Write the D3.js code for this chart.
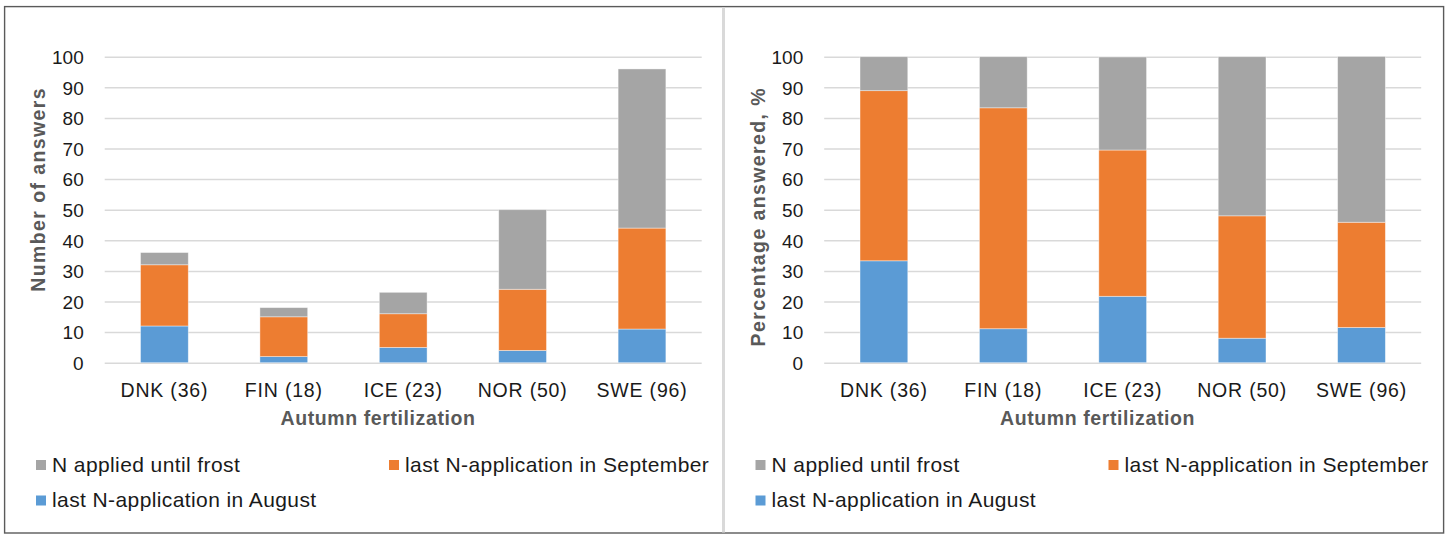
<!DOCTYPE html>
<html>
<head>
<meta charset="utf-8">
<script src="https://cdn.jsdelivr.net/npm/d3@7"></script>
<style>
  body { margin: 0; background: #fff; }
  text { font-family: "Liberation Sans", Arial, sans-serif; }
</style>
</head>
<body>
<script>
// data
var categories = ['DNK (36)', 'FIN (18)', 'ICE (23)', 'NOR (50)', 'SWE (96)']
var seriesKeys = ['august', 'september', 'frost']
var seriesNames = {
  august: 'last N-application in August',
  september: 'last N-application in September',
  frost: 'N applied until frost'
}
var countAugust = [12, 2, 5, 4, 11]
var countSeptember = [20, 13, 11, 20, 33]
var countFrost = [4, 3, 7, 26, 52]
var pctAugust = [33.3, 11.1, 21.7, 8.0, 11.5]
var pctSeptember = [55.6, 72.2, 47.8, 40.0, 34.4]
var pctFrost = [11.1, 16.7, 30.4, 52.0, 54.2]
var yTicks = [0, 10, 20, 30, 40, 50, 60, 70, 80, 90, 100]

var colors = { august: '#5b9bd5', september: '#ed7d31', frost: '#a5a5a5' }

var W = 1448, H = 535
var svg = d3.select('body').append('svg')
    .attr('width', W)
    .attr('height', H)

// outer frame + divider
svg.append('rect')
    .attr('x', 4.6).attr('y', 6.6)
    .attr('width', 1439).attr('height', 526.4)
    .attr('fill', 'none')
    .attr('stroke', '#5a5a5a')
    .attr('stroke-width', 1.4)
svg.append('line')
    .attr('x1', 723.5).attr('x2', 723.5)
    .attr('y1', 7.5).attr('y2', 532.5)
    .attr('stroke', '#d9d9d9')
    .attr('stroke-width', 3)

function makeTable(a, s, f) {
  return categories.map(function (c, i) {
    return { cat: c, august: a[i], september: s[i], frost: f[i] }
  })
}

var panels = [
  { left: 0, title: 'Number of answers', data: makeTable(countAugust, countSeptember, countFrost) },
  { left: 719.5, title: 'Percentage answered, %', data: makeTable(pctAugust, pctSeptember, pctFrost) }
]

panels.forEach(function (p) {
  var g = svg.append('g').attr('transform', 'translate(' + p.left + ',0)')
  var x0 = 104.7, x1 = 701.7, yTop = 56.7, yBot = 362.7

  var xScale = d3.scaleBand()
    .domain(categories)
    .range([x0, x1])
    .paddingInner(0.6)
    .paddingOuter(0.3)
  var yScale = d3.scaleLinear()
    .domain([0, 100])
    .range([yBot, yTop])

  // y axis with gridlines
  var yAxis = d3.axisLeft(yScale)
    .tickValues(yTicks)
    .tickSize(-(x1 - x0))
    .tickPadding(21)
  var ya = g.append('g')
      .attr('transform', 'translate(' + x0 + ',0)')
      .call(yAxis)
  ya.select('.domain').remove()
  ya.selectAll('line').attr('stroke', '#d9d9d9').attr('stroke-width', 1.5)
  ya.selectAll('text')
      .attr('fill', '#1a1a1a')
      .attr('font-size', '19px')
      .attr('dy', '0.36em')

  // stacked bars
  var stacked = d3.stack().keys(seriesKeys)(p.data)
  g.selectAll('.layer')
      .data(stacked)
      .enter()
    .append('g')
      .attr('class', 'layer')
      .attr('fill', function (d) { return colors[d.key] })
    .selectAll('rect')
      .data(function (d) { return d })
      .enter()
    .append('rect')
      .attr('x', function (d) { return xScale(d.data.cat) })
      .attr('y', function (d) { return yScale(d[1]) })
      .attr('width', xScale.bandwidth())
      .attr('height', function (d) { return yScale(d[0]) - yScale(d[1]) })
      .attr('stroke', '#ffffff')
      .attr('stroke-opacity', 0.5)
      .attr('stroke-width', 0.8)

  // x axis labels
  var xAxis = d3.axisBottom(xScale).tickSize(0).tickPadding(20.5)
  var xa = g.append('g')
      .attr('transform', 'translate(0,' + yBot + ')')
      .call(xAxis)
  xa.select('.domain').remove()
  xa.selectAll('text')
      .attr('fill', '#1a1a1a')
      .attr('font-size', '19.5px')
      .style('letter-spacing', '0.8px')

  // axis titles
  g.append('text')
      .attr('x', 378)
      .attr('y', 424.5)
      .attr('text-anchor', 'middle')
      .attr('font-size', '19.5px')
      .attr('font-weight', 'bold')
      .attr('fill', '#595959')
      .style('letter-spacing', '0.6px')
      .text('Autumn fertilization')
  g.append('text')
      .attr('transform', 'translate(45,87) rotate(-90)')
      .attr('text-anchor', 'end')
      .attr('font-size', '19.5px')
      .attr('font-weight', 'bold')
      .attr('fill', '#595959')
      .style('letter-spacing', '1.4px')
      .text(p.title)

  // legend
  var legendItems = [
    { key: 'frost', x: 36, y: 460 },
    { key: 'september', x: 389, y: 460 },
    { key: 'august', x: 36, y: 495.5 }
  ]
  var lg = g.selectAll('.legend')
      .data(legendItems)
      .enter()
    .append('g')
      .attr('class', 'legend')
      .attr('transform', function (d) { return 'translate(' + d.x + ',' + d.y + ')' })
  lg.append('rect')
      .attr('width', 10)
      .attr('height', 10)
      .attr('fill', function (d) { return colors[d.key] })
  lg.append('text')
      .attr('x', 16)
      .attr('y', 11.7)
      .attr('font-size', '21px')
      .attr('fill', '#1a1a1a')
      .style('letter-spacing', '0.4px')
      .text(function (d) { return seriesNames[d.key] })
})
</script>
</body>
</html>
